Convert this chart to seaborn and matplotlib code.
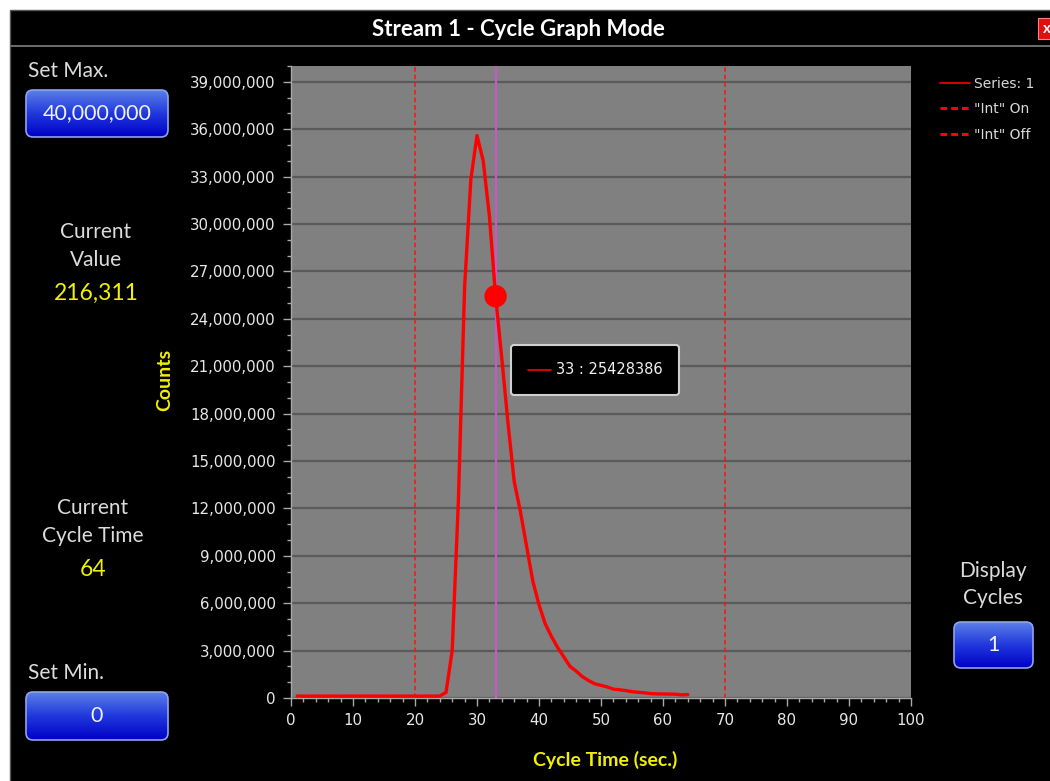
import numpy as np
import pandas as pd
import matplotlib
matplotlib.use("Agg")
import matplotlib.pyplot as plt
import seaborn as sns
from matplotlib.patches import Rectangle, FancyBboxPatch
from matplotlib.lines import Line2D
from matplotlib.colors import LinearSegmentedColormap

# cycle graph data (one reading per second of the cycle)
cycle_time = list(range(1, 65))
counts = [
    125000, 120000, 118000, 121000, 119000, 122000, 120000, 118000,
    121000, 120000, 119000, 122000, 120000, 121000, 118000, 120000,
    122000, 119000, 121000, 120000, 118000, 121000, 120000, 130000,
    350000, 3000000, 12500000, 26000000, 32800000, 35600000, 34000000, 30500000,
    25428386, 21500000, 17400000, 13700000, 11800000, 9600000, 7400000, 5900000,
    4700000, 3900000, 3200000, 2600000, 2000000, 1700000, 1350000, 1100000,
    900000, 800000, 700000, 560000, 520000, 470000, 400000, 360000,
    330000, 280000, 260000, 255000, 250000, 240000, 200000, 216311,
]
int_on = 20
int_off = 70
cursor_x = 33
set_max = 40000000
set_min = 0
display_cycles = 1

df = pd.DataFrame({"Cycle Time (sec.)": cycle_time, "Counts": counts})
cursor_y = df.loc[df["Cycle Time (sec.)"] == cursor_x, "Counts"].iloc[0]

sns.set_theme(style="dark")
plt.rcParams["font.family"] = ["Lato", "DejaVu Sans"]

W, H = 1050, 781
fig = plt.figure(figsize=(W / 100, H / 100), dpi=100, facecolor="white")

# window chrome drawn in pixel coordinates
bg = fig.add_axes([0, 0, 1, 1], zorder=0)
bg.set_xlim(0, W)
bg.set_ylim(H, 0)
bg.axis("off")
bg.add_patch(Rectangle((10, 10), W, H, facecolor="black", edgecolor="#555555", lw=1))
bar_cmap = LinearSegmentedColormap.from_list("bar", ["#555555", "#262626", "#0e0e0e"])
bg.imshow(np.linspace(0, 1, 40)[:, None], cmap=bar_cmap, extent=(10, W, 45, 10),
          aspect="auto", origin="upper")
bg.add_patch(Rectangle((10, 45), W, 2, facecolor="#6a6a6a", edgecolor="none"))
bg.add_patch(Rectangle((1038, 18), 16, 21, facecolor="#e01010", edgecolor="#ff8080", lw=0.8))
bg.text(1047, 29, "x", color="white", fontsize=11, fontweight="bold", ha="center", va="center")
bg.text(518, 29, "Stream 1 - Cycle Graph Mode", color="white", fontsize=16,
        fontweight="bold", ha="center", va="center")

btn_cmap = LinearSegmentedColormap.from_list("btn", ["#5a7ee8", "#2038dc", "#0000c8"])


def button(x0, y0, x1, y1, label):
    box = FancyBboxPatch((x0, y0), x1 - x0, y1 - y0,
                         boxstyle="round,pad=0,rounding_size=7",
                         facecolor="none", edgecolor="#8ea4ec", lw=1.2, zorder=3)
    bg.add_patch(box)
    im = bg.imshow(np.linspace(0, 1, 50)[:, None], cmap=btn_cmap,
                   extent=(x0, x1, y1, y0), aspect="auto", origin="upper", zorder=2)
    im.set_clip_path(box)
    bg.text((x0 + x1) / 2, (y0 + y1) / 2, label, color="#eef0ff", fontsize=15.5,
            ha="center", va="center", zorder=4)


light = "#dcdcdc"
yellow = "#f0f000"
bg.text(28, 71, "Set Max.", color=light, fontsize=15, ha="left", va="center")
button(26, 90, 168, 137, f"{set_max:,}")
bg.text(96, 232, "Current", color=light, fontsize=15, ha="center", va="center")
bg.text(96, 260, "Value", color=light, fontsize=15, ha="center", va="center")
bg.text(96, 293, f"{counts[-1]:,}", color=yellow, fontsize=16.5, ha="center", va="center")
bg.text(93, 508, "Current", color=light, fontsize=15, ha="center", va="center")
bg.text(93, 536, "Cycle Time", color=light, fontsize=15, ha="center", va="center")
bg.text(93, 569, f"{cycle_time[-1]}", color=yellow, fontsize=16.5, ha="center", va="center")
bg.text(28, 673, "Set Min.", color=light, fontsize=15, ha="left", va="center")
button(26, 692, 168, 740, f"{set_min:,}")
bg.text(993, 571, "Display", color=light, fontsize=15, ha="center", va="center")
bg.text(993, 598, "Cycles", color=light, fontsize=15, ha="center", va="center")
button(954, 622, 1033, 668, f"{display_cycles}")

# main chart
ax = fig.add_axes([291 / W, 1 - 698 / H, 620 / W, 632 / H], zorder=1)
ax.set_facecolor("#808080")
ax.set_xlim(0, 100)
ax.set_ylim(0, 40000000)

ax.axvline(int_on, color="#ff1010", lw=1.1, ls=(0, (3, 2)), zorder=2)
ax.axvline(int_off, color="#ff1010", lw=1.1, ls=(0, (3, 2)), zorder=2)
ax.axvline(cursor_x, color="#cc55cc", lw=1.5, zorder=2)
sns.lineplot(data=df, x="Cycle Time (sec.)", y="Counts", color="#ff0000", lw=2.4,
             ax=ax, zorder=3)
ax.scatter([cursor_x], [cursor_y], s=260, color="#ff0000", zorder=4, edgecolors="none")

ax.set_xticks(np.arange(0, 101, 10))
ax.set_xticks(np.arange(0, 101, 2), minor=True)
ax.set_yticks(np.arange(0, 39000001, 3000000))
ax.set_yticks(np.arange(0, 40000001, 1000000), minor=True)
ax.yaxis.set_major_formatter(matplotlib.ticker.FuncFormatter(lambda v, p: f"{int(v):,}"))
ax.grid(axis="y", which="major", color="#5a5a5a", lw=1.6)
ax.grid(axis="x", visible=False)
ax.tick_params(which="major", length=6, width=1, color="#a8a8a8", labelcolor="#e8e8e8",
               labelsize=10.8, pad=5, bottom=True, left=True)
ax.tick_params(which="minor", length=3, width=1, color="#a8a8a8", bottom=True, left=True)
for lab in ax.get_xticklabels() + ax.get_yticklabels():
    lab.set_family("DejaVu Sans")
for side in ["top", "right"]:
    ax.spines[side].set_visible(False)
for side in ["left", "bottom"]:
    ax.spines[side].set_color("#a8a8a8")
    ax.spines[side].set_linewidth(1)

ax.set_xlabel("Cycle Time (sec.)", color=yellow, fontsize=14, fontweight="bold")
ax.set_ylabel("Counts", color=yellow, fontsize=14, fontweight="bold")
ax.xaxis.set_label_coords(0.506, -0.083)
ax.yaxis.set_label_coords(-0.19, 0.503)

# tooltip at the cursor
tip = FancyBboxPatch((511, 345), 168, 50, boxstyle="round,pad=0,rounding_size=3",
                     facecolor="black", edgecolor="#d0d0d0", lw=1.5, zorder=5)
fig_tip = fig.add_axes([0, 0, 1, 1], zorder=2)
fig_tip.set_xlim(0, W)
fig_tip.set_ylim(H, 0)
fig_tip.axis("off")
fig_tip.add_patch(tip)
fig_tip.plot([528, 551], [370, 370], color="#ff0000", lw=1.2, zorder=6)
fig_tip.text(556, 370, f"{cursor_x} : {cursor_y}", color="#f0f0f0", fontsize=10.5,
             family="DejaVu Sans", ha="left", va="center", zorder=6)

handles = [
    Line2D([], [], color="#ff0000", lw=1.2),
    Line2D([], [], color="#ff0000", lw=2.2, ls=(0, (2.2, 1.3))),
    Line2D([], [], color="#ff0000", lw=2.2, ls=(0, (2.2, 1.3))),
]
leg = fig.legend(handles, ["Series: 1", '"Int" On', '"Int" Off'], loc="upper left",
                 bbox_to_anchor=(927 / W, 1 - 64 / H), frameon=False,
                 handlelength=2.2, handletextpad=0.3, labelspacing=0.85,
                 prop={"family": "DejaVu Sans", "size": 10})
for t in leg.get_texts():
    t.set_color("#d8d8d8")

fig.savefig("out.png", dpi=100, facecolor="white")
